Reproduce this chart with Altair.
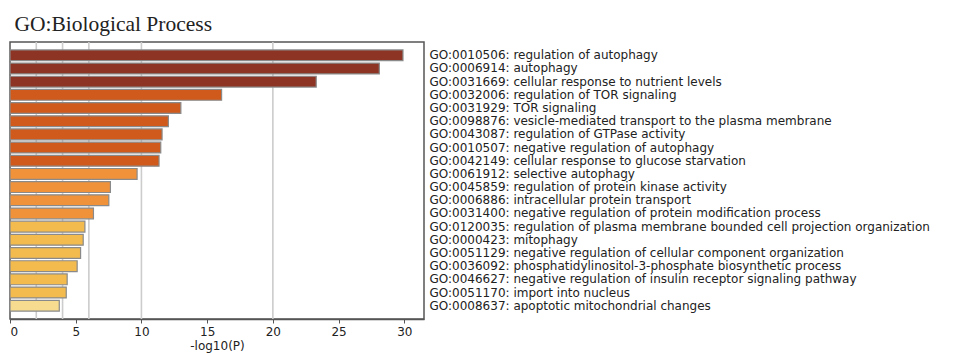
import altair as alt
import pandas as pd

terms = [
    "GO:0010506: regulation of autophagy",
    "GO:0006914: autophagy",
    "GO:0031669: cellular response to nutrient levels",
    "GO:0032006: regulation of TOR signaling",
    "GO:0031929: TOR signaling",
    "GO:0098876: vesicle-mediated transport to the plasma membrane",
    "GO:0043087: regulation of GTPase activity",
    "GO:0010507: negative regulation of autophagy",
    "GO:0042149: cellular response to glucose starvation",
    "GO:0061912: selective autophagy",
    "GO:0045859: regulation of protein kinase activity",
    "GO:0006886: intracellular protein transport",
    "GO:0031400: negative regulation of protein modification process",
    "GO:0120035: regulation of plasma membrane bounded cell projection organization",
    "GO:0000423: mitophagy",
    "GO:0051129: negative regulation of cellular component organization",
    "GO:0036092: phosphatidylinositol-3-phosphate biosynthetic process",
    "GO:0046627: negative regulation of insulin receptor signaling pathway",
    "GO:0051170: import into nucleus",
    "GO:0008637: apoptotic mitochondrial changes",
]
neg_log_p = [29.9, 28.1, 23.3, 16.1, 13.0, 12.05, 11.57, 11.47, 11.34, 9.67,
             7.64, 7.52, 6.35, 5.7, 5.57, 5.37, 5.11, 4.35, 4.28, 3.75]

# significance thresholds used for grid lines and colour bins
thresholds = [2, 4, 6, 10, 20]
bin_edges = [4, 6, 10, 20]
bin_colors = ["#F7DC8F", "#F3BA4D", "#F0923A", "#CF5A1B", "#8E3424"]
x_ticks = [0, 5, 10, 15, 20, 25, 30]

df = pd.DataFrame({"term": terms, "value": neg_log_p})
grid_df = pd.DataFrame({"t": thresholds})

x_scale = alt.Scale(domain=[0, 31.5], nice=False, zero=True)

grid = alt.Chart(grid_df).mark_rule(color="#cccccc", strokeWidth=1.6).encode(
    x=alt.X("t:Q", scale=x_scale)
)

bars = alt.Chart(df).mark_bar(stroke="#8a8a8a", strokeWidth=1.2).encode(
    x=alt.X(
        "value:Q",
        scale=x_scale,
        title="-log10(P)",
        axis=alt.Axis(
            values=x_ticks,
            grid=False,
            labelFont="DejaVu Sans",
            labelFontSize=12,
            labelColor="#222222",
            titleFont="DejaVu Sans",
            titleFontSize=12,
            titleFontWeight="normal",
            titleColor="#222222",
            titlePadding=3,
            domainColor="#555555",
            domainWidth=1.5,
            tickColor="#555555",
            tickSize=4,
            labelPadding=3,
        ),
    ),
    y=alt.Y(
        "term:N",
        sort=terms,
        title=None,
        scale=alt.Scale(paddingInner=0.18, paddingOuter=0.6),
        axis=alt.Axis(
            orient="right",
            ticks=False,
            domain=False,
            labelFont="DejaVu Sans",
            labelFontSize=12,
            labelColor="#222222",
            labelPadding=5,
            labelLimit=0,
        ),
    ),
    color=alt.Color(
        "value:Q",
        scale=alt.Scale(type="threshold", domain=bin_edges, range=bin_colors),
        legend=None,
    ),
)

chart = (
    alt.layer(grid, bars)
    .properties(
        width=414,
        height=277,
        autosize=alt.AutoSizeParams(type="none"),
        padding={"left": 10, "top": 42, "right": 536, "bottom": 34},
        title=alt.Title(
            "GO:Biological Process",
            anchor="start",
            font="Liberation Serif",
            fontSize=21.5,
            fontWeight="normal",
            color="#222222",
            offset=6,
            dx=5,
        ),
    )
    .configure(background="white")
    .configure_view(stroke="#555555", strokeWidth=1.5)
)

chart.save("out.html", embed_options={"renderer": "svg", "actions": False})
